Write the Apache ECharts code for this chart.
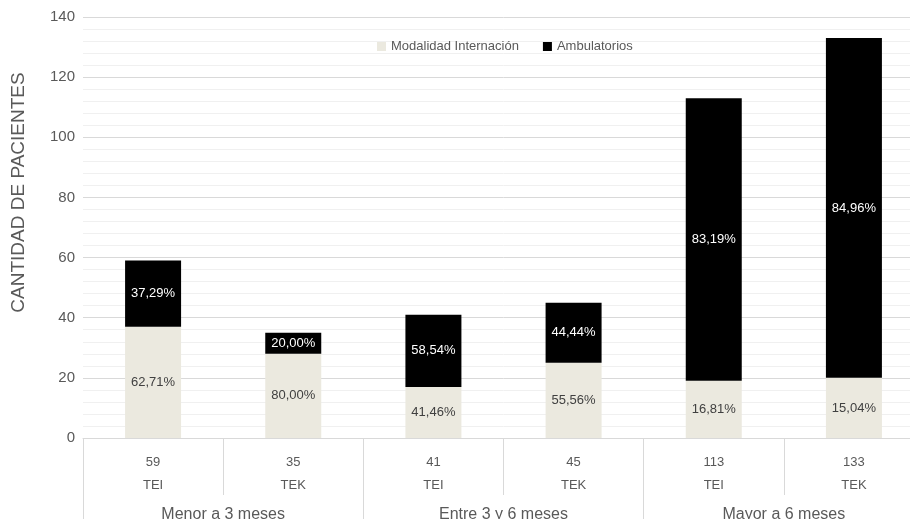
<!DOCTYPE html>
<html>
<head>
<meta charset="utf-8">
<script src="https://cdn.jsdelivr.net/npm/echarts@6/dist/echarts.min.js"></script>
<style>
  html, body { margin: 0; padding: 0; background: #fff; overflow: hidden; }
  /* the reference is cropped on the right: plot runs past the window edge */
  #chart { width: 924px; height: 519px; }
</style>
</head>
<body>
<div id="chart"></div>
<script>
  var tipos = ['TEI', 'TEK', 'TEI', 'TEK', 'TEI', 'TEK']
  var grupos = ['Menor a 3 meses', 'Entre 3 y 6 meses', 'Mayor a 6 meses']
  var internacion = [37, 28, 17, 25, 19, 20]
  var ambulatorios = [22, 7, 24, 20, 94, 113]
  var yTicks = [0, 20, 40, 60, 80, 100, 120, 140]

  var totales = internacion.map(function (v, i) { return v + ambulatorios[i] })
  function pct(v, i) {
    return (v / totales[i] * 100).toFixed(2).replace('.', ',') + '%'
  }

  var font = '"Liberation Sans", Arial, Helvetica, sans-serif'
  var chart = echarts.init(document.getElementById('chart'))
  chart.setOption({
    backgroundColor: '#fff',
    textStyle: { fontFamily: font },
    animation: false,
    legend: {
      top: 35,
      left: 372,
      itemWidth: 9,
      itemHeight: 9,
      itemGap: 24,
      icon: 'rect',
      textStyle: { color: '#595959', fontSize: 13, fontFamily: font },
      data: ['Modalidad Internación', 'Ambulatorios']
    },
    grid: { left: 83, right: 0, top: 17, bottom: 81, containLabel: false, outerBoundsMode: 'none' },
    xAxis: [
      {
        type: 'category',
        data: tipos,
        position: 'bottom',
        axisLine: { lineStyle: { color: '#d9d9d9' } },
        axisTick: { show: true, interval: 0, length: 57, lineStyle: { color: '#d9d9d9' } },
        axisLabel: {
          interval: 0,
          margin: 13,
          formatter: function (v, i) { return '{a|' + totales[i] + '}\n{b|' + v + '}' },
          rich: {
            a: { fontSize: 13, color: '#595959', lineHeight: 23, fontFamily: font },
            b: { fontSize: 13, color: '#595959', lineHeight: 23, fontFamily: font }
          }
        }
      },
      {
        type: 'category',
        data: grupos,
        position: 'bottom',
        axisLine: { show: false },
        axisTick: { show: true, interval: 0, length: 85, lineStyle: { color: '#d9d9d9' } },
        axisLabel: { interval: 0, margin: 69, fontSize: 16, color: '#595959', fontFamily: font }
      }
    ],
    yAxis: {
      type: 'value',
      min: 0,
      max: 140,
      interval: 20,
      name: 'CANTIDAD DE PACIENTES',
      nameLocation: 'middle',
      nameRotate: 90,
      nameGap: 55,
      nameTextStyle: { color: '#595959', fontSize: 19, fontFamily: font, padding: [0, 0, 0, 70] },
      axisLine: { show: false },
      axisTick: { show: false },
      axisLabel: {
        margin: 8, fontSize: 15, color: '#595959', fontFamily: font,
        formatter: function (v) { return yTicks.indexOf(v) >= 0 ? String(v) : '' }
      },
      splitLine: { lineStyle: { color: '#d9d9d9' } },
      minorTick: { show: false, splitNumber: 5 },
      minorSplitLine: { show: true, lineStyle: { color: '#f0f0f0' } }
    },
    series: [
      {
        name: 'Modalidad Internación',
        type: 'bar',
        stack: 'total',
        barWidth: 56,
        itemStyle: { color: '#ebe9df' },
        label: {
          show: true,
          position: 'inside',
          color: '#404040',
          fontSize: 13,
          fontFamily: font,
          formatter: function (p) { return pct(p.value, p.dataIndex) }
        },
        data: internacion
      },
      {
        name: 'Ambulatorios',
        type: 'bar',
        stack: 'total',
        barWidth: 56,
        itemStyle: { color: '#000' },
        label: {
          show: true,
          position: 'inside',
          color: '#fff',
          fontSize: 13,
          fontFamily: font,
          formatter: function (p) { return pct(p.value, p.dataIndex) }
        },
        data: ambulatorios
      }
    ]
  })
</script>
</body>
</html>
